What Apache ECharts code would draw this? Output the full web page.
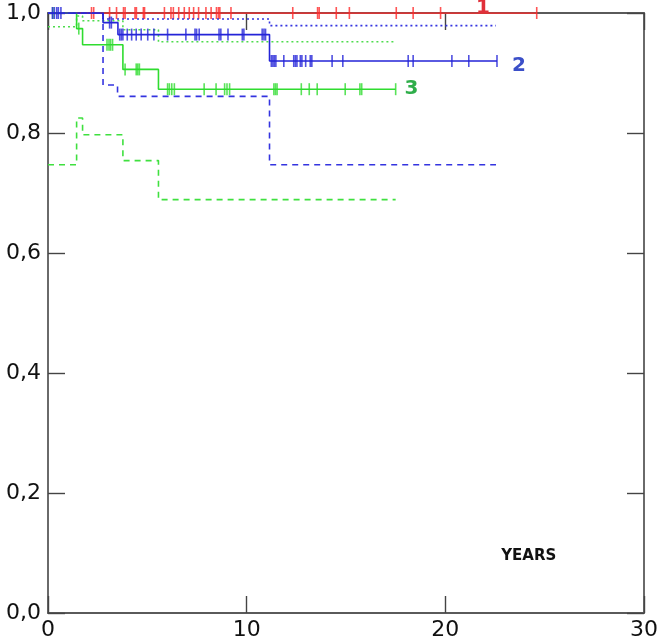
<!DOCTYPE html>
<html>
<head>
<meta charset="utf-8">
<script src="https://cdn.jsdelivr.net/npm/echarts@6/dist/echarts.min.js"></script>
<style>html,body{margin:0;padding:0;background:#fff;}#c{width:661px;height:643px;}</style>
</head>
<body>
<div id="c"></div>
<script>
// ---- axis ticks ----
const xTickValues = [0, 10, 20, 30];
const yTickValues = [0, 0.2, 0.4, 0.6, 0.8, 1.0];

// ---- group 1 (red) ----
const g1Times = [0, 24.6];
const g1Surv  = [1, 1];
const g1Censor = [2.19, 2.30, 3.10, 3.45, 3.80, 3.88, 4.38, 4.45, 4.80, 4.86, 5.86, 6.19, 6.31, 6.58, 6.86, 7.11, 7.33, 7.58, 7.95, 8.21, 8.48, 8.58, 8.65, 9.21, 12.32, 13.57, 13.65, 14.51, 15.17, 17.53, 18.38, 19.76, 24.6];

// ---- group 2 (blue) ----
const g2Times = [0, 2.77, 3.52, 11.15, 22.6];
const g2Surv  = [1, 0.984, 0.964, 0.92, 0.92];
const g2UpTimes = [0, 2.77, 11.15, 22.55];
const g2Upper   = [1, 0.99, 0.979, 0.979];
const g2LoTimes = [0, 2.77, 3.5, 11.15, 22.55];
const g2Lower   = [1, 0.88, 0.861, 0.747, 0.747];
const g2Censor = [0.22, 0.32, 0.44, 0.52, 0.65, 3.10, 3.19, 3.61, 3.69, 3.77, 3.99, 4.21, 4.44, 4.69, 5.02, 5.33, 6.02, 6.94, 7.40, 7.48, 7.61, 8.61, 8.70, 9.06, 9.78, 9.86, 10.78, 10.87, 10.95, 11.24, 11.32, 11.39, 11.47, 11.87, 12.37, 12.45, 12.53, 12.70, 12.78, 12.97, 13.20, 13.28, 14.30, 14.84, 18.13, 18.38, 20.33, 21.18, 22.6];

// ---- group 3 (green) ----
const g3Times = [0, 1.44, 1.74, 3.77, 5.56, 17.5];
const g3Surv  = [1, 0.974, 0.947, 0.906, 0.873, 0.873];
const g3Upper = [0.977, 0.995, 0.987, 0.972, 0.952, 0.952];
const g3Lower = [0.747, 0.825, 0.797, 0.754, 0.689, 0.689];
const g3Censor = [0.25, 1.55, 2.97, 3.07, 3.15, 3.25, 3.88, 4.44, 4.52, 4.60, 6.02, 6.11, 6.23, 6.36, 7.86, 8.46, 8.89, 9.01, 9.14, 11.37, 11.45, 11.53, 12.75, 13.15, 13.55, 14.96, 15.70, 15.79, 17.5];

// ---- curve labels ----
const curveLabels = [
  {text: '1', x: 21.9, y: 1.008, color: '#e0303a'},
  {text: '2', x: 23.7, y: 0.912, color: '#3b4fc8'},
  {text: '3', x: 18.3, y: 0.874, color: '#2fae4a'}
];
const xTitle = 'YEARS';

const RED = '#ff2b2b', BLUE = '#2424d8', GREEN = '#2fdc2f';

function zip(t, v) { return t.map((x, i) => [x, v[i]]); }
function survAt(t, v, x) { let k = 0; for (let i = 0; i < t.length; i++) if (t[i] <= x) k = i; return v[k]; }
function censorPts(cs, t, v) { return cs.map(c => [c, survAt(t, v, c)]); }

function stepLine(data, color, type, z) {
  return { type: 'line', step: 'end', data: data, symbol: 'none', silent: true, z: z,
    lineStyle: { color: color, width: 1.6, type: type } };
}
function censors(data, color, z) {
  return { type: 'scatter', data: data, symbol: 'rect', symbolSize: [1.6, 12], silent: true, z: z,
    itemStyle: { color: color } };
}

const chart = echarts.init(document.getElementById('c'), null, { renderer: 'canvas' });
const axisLineStyle = { color: '#5a5a5a', width: 1.8 };
const tickStyle = { show: true, inside: true, length: 17, lineStyle: { color: '#444', width: 1.4 } };
const fmtY = v => v.toFixed(1).replace('.', ',');

chart.setOption({
  animation: false,
  backgroundColor: '#fff',
  grid: { left: 48, right: 14, top: 13, bottom: 30 },
  xAxis: [
    { type: 'value', min: 0, max: 30, interval: 10, position: 'bottom',
      axisLine: { show: true, onZero: false, lineStyle: axisLineStyle }, axisTick: tickStyle,
      splitLine: { show: false },
      axisLabel: { margin: 6, color: '#111', fontSize: 22, fontFamily: 'DejaVu Sans',
        formatter: v => xTickValues.includes(v) ? String(v) : '' } },
    { type: 'value', min: 0, max: 30, interval: 10, position: 'top',
      axisLine: { show: true, onZero: false, lineStyle: axisLineStyle }, axisTick: tickStyle,
      splitLine: { show: false }, axisLabel: { show: false } }
  ],
  yAxis: [
    { type: 'value', min: 0, max: 1, interval: 0.2, position: 'left',
      axisLine: { show: true, onZero: false, lineStyle: axisLineStyle }, axisTick: tickStyle,
      splitLine: { show: false },
      axisLabel: { margin: 7, color: '#111', fontSize: 22, fontFamily: 'DejaVu Sans',
        formatter: v => fmtY(v) } },
    { type: 'value', min: 0, max: 1, interval: 0.2, position: 'right',
      axisLine: { show: true, onZero: false, lineStyle: axisLineStyle }, axisTick: tickStyle,
      splitLine: { show: false }, axisLabel: { show: false } }
  ],
  series: [
    stepLine(zip(g1Times, g1Surv), RED, 'solid', 3),
    censors(censorPts(g1Censor, g1Times, g1Surv), RED, 3),
    stepLine(zip(g3Times, g3Upper), '#4fdc4f', [2, 3], 2),
    stepLine(zip(g3Times, g3Lower), '#3fe03f', [6, 5], 2),
    stepLine(zip(g3Times, g3Surv), GREEN, 'solid', 4),
    censors(censorPts(g3Censor, g3Times, g3Surv), GREEN, 4),
    stepLine(zip(g2UpTimes, g2Upper), '#3434e0', [2, 3], 5),
    stepLine(zip(g2LoTimes, g2Lower), '#3434e0', [6, 5], 5),
    stepLine(zip(g2Times, g2Surv), BLUE, 'solid', 6),
    censors(censorPts(g2Censor, g2Times, g2Surv), BLUE, 6)
  ]
});

const gfx = curveLabels.map(l => {
  const p = chart.convertToPixel({ xAxisIndex: 0, yAxisIndex: 0 }, [l.x, l.y]);
  return { type: 'text', x: p[0], y: p[1], z: 10,
    style: { text: l.text, fill: l.color, font: 'bold 20px "DejaVu Sans"', align: 'center', verticalAlign: 'middle' } };
});
const tp = chart.convertToPixel({ xAxisIndex: 0, yAxisIndex: 0 }, [24.2, 0.095]);
gfx.push({ type: 'text', x: tp[0], y: tp[1], z: 10,
  style: { text: xTitle, fill: '#111', font: 'bold 15px "DejaVu Sans"', align: 'center', verticalAlign: 'middle' } });
chart.setOption({ graphic: gfx });
</script>
</body>
</html>
